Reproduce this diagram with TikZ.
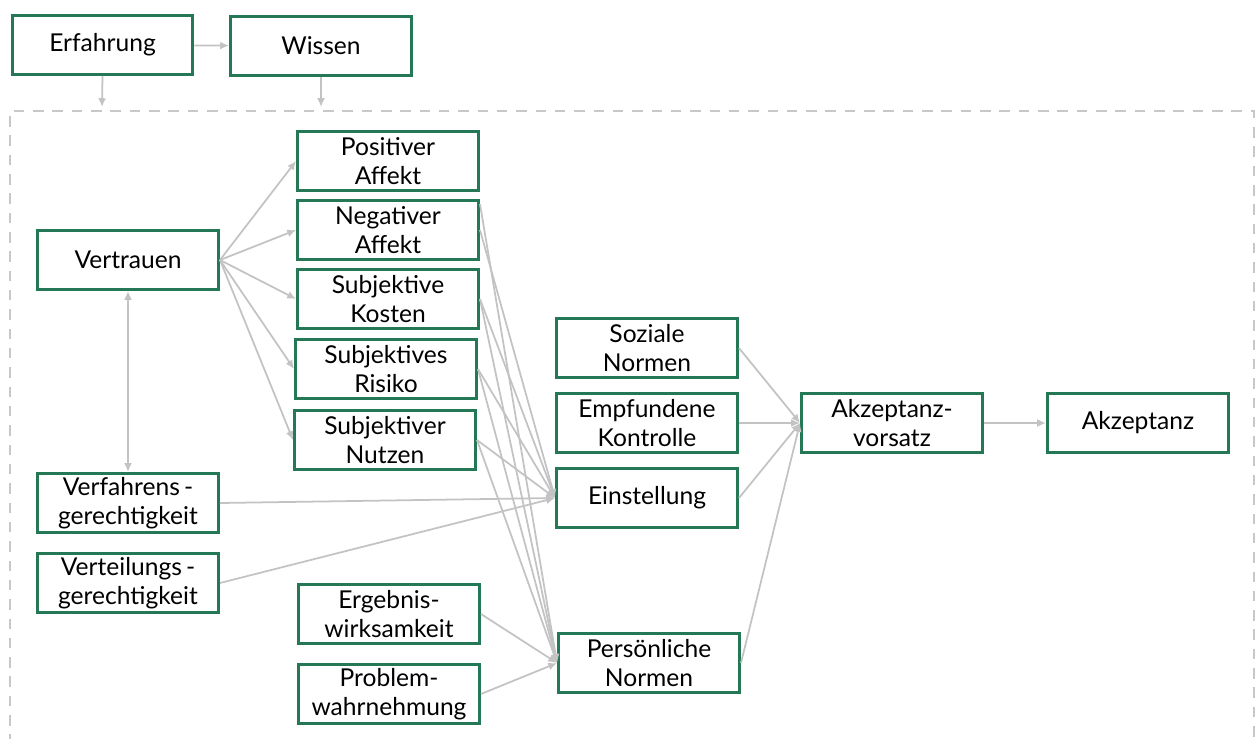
\documentclass[tikz,border=0pt]{standalone}
\usepackage{fontspec}
\setmainfont{Lato}
\usetikzlibrary{arrows.meta}

\definecolor{boxgreen}{RGB}{36,120,86}
\definecolor{linegray}{RGB}{195,195,195}
\definecolor{dashgray}{RGB}{200,200,200}

\tikzset{
    box/.style={draw=boxgreen,line width=1.7pt,minimum width=3.62cm,minimum height=1.18cm,
        inner sep=0pt,align=center,font=\fontsize{14}{16.2}\selectfont},
    link/.style={draw=linegray,line width=1pt,-{Latex[length=5pt,width=4.5pt]}},
    twolink/.style={draw=linegray,line width=1pt,{Latex[length=5pt,width=4.5pt]}-{Latex[length=5pt,width=4.5pt]}},
}

\begin{document}
\begin{tikzpicture}[x=0.02cm,y=-0.02cm]
        \useasboundingbox (0,0) rectangle (1259,738);
        % dashed frame
        \draw[dashgray,line width=1.6pt,dash pattern=on 6pt off 5pt] (10,745) -- (10,111) -- (1254,111) -- (1254,745);
        \coordinate (erfin) at (102,107);
        \coordinate (wisin) at (321,107);

        \node[box] (erf) at (102.5,45) {Erfahrung};
        \node[box] (wis) at (321,46) {Wissen};

        \node[box] (pos) at (388,161) {Positiver\\Affekt};
        \node[box] (neg) at (388,230) {Negativer\\Affekt};
        \node[box] (kos) at (388,299) {Subjektive\\Kosten};
        \node[box] (ris) at (386,369) {Subjektives\\Risiko};
        \node[box] (nut) at (385,440) {Subjektiver\\Nutzen};

        \node[box] (ver) at (128,260) {Vertrauen};
        \node[box] (vfg) at (128,503) {Verfahrens\,-\\gerechtigkeit};
        \node[box] (vtg) at (128,583) {Verteilungs\,-\\gerechtigkeit};

        \node[box] (erg) at (389,614) {Ergebnis-\\wirksamkeit};
        \node[box] (pro) at (389,694) {Problem-\\wahrnehmung};

        \node[box] (soz) at (647,348) {Soziale\\Normen};
        \node[box] (kon) at (647,423) {Empfundene\\Kontrolle};
        \node[box] (ein) at (647,498) {Einstellung};
        \node[box] (per) at (649,663) {Persönliche\\Normen};

        \node[box] (avs) at (892,423) {Akzeptanz-\\vorsatz};
        \node[box] (akz) at (1138,423) {Akzeptanz};

        \draw[link] (erf) -- (wis);
        \draw[link] (erf.south) -- (erfin);
        \draw[link] (wis.south) -- (wisin);

        \foreach \n in {pos,neg,kos,ris,nut}
            \draw[link] (ver.east) -- (\n.west);
        \draw[twolink] (ver) -- (vfg);

        \draw[link] ([yshift=0.52cm]neg.east) -- (per.west);
        \draw[link] (neg.east) -- (ein.west);
        \foreach \n in {kos,ris,nut} {
            \draw[link] (\n.east) -- (ein.west);
            \draw[link] (\n.east) -- (per.west);
        }
        \draw[link] (vfg.east) -- (ein.west);
        \draw[link] (vtg.east) -- (ein.west);
        \draw[link] (erg.east) -- (per.west);
        \draw[link] (pro.east) -- (per.west);

        \foreach \n in {soz,kon,ein,per}
            \draw[link] (\n.east) -- (avs.west);
        \draw[link] (avs) -- (akz);

    \end{tikzpicture}
\end{document}
